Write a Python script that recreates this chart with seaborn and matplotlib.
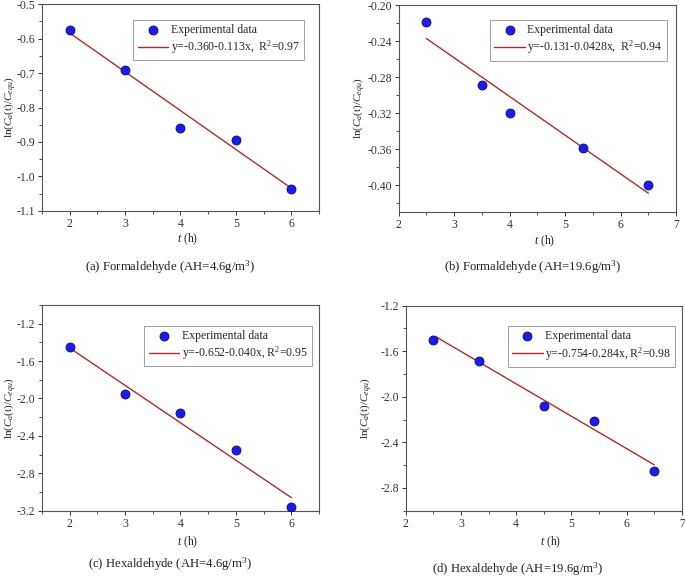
import matplotlib
matplotlib.use("Agg")
import matplotlib.pyplot as plt
import seaborn as sns
import pandas as pd
from matplotlib.ticker import MultipleLocator

# ---------------- data ----------------
a_x = [2, 3, 4, 5, 6]
a_y = [-0.575, -0.691, -0.858, -0.894, -1.036]
a_fit_x = [2, 6]
a_fit_y = [-0.584, -1.034]
a_label = "y=-0.360-0.113x,  R$^2$=0.97"

b_x = [2.5, 3.5, 4.0, 5.33, 6.5]
b_y = [-0.219, -0.289, -0.320, -0.359, -0.400]
b_fit_x = [2.5, 6.5]
b_fit_y = [-0.237, -0.409]
b_label = "y=-0.131-0.0428x,  R$^2$=0.94"

c_x = [2, 3, 4, 5, 6]
c_y = [-1.452, -1.955, -2.153, -2.555, -3.159]
c_fit_x = [2, 6]
c_fit_y = [-1.46, -3.06]
c_label = "y=-0.652-0.040x, R$^2$=0.95"

d_x = [2.5, 3.33, 4.5, 5.41, 6.5]
d_y = [-1.503, -1.685, -2.08, -2.21, -2.653]
d_fit_x = [2.55, 6.5]
d_fit_y = [-1.475, -2.597]
d_label = "y=-0.754-0.284x, R$^2$=0.98"

captions = ["(a) Formaldehyde (AH=4.6g/m$^3$)",
            "(b) Formaldehyde (AH=19.6g/m$^3$)",
            "(c) Hexaldehyde (AH=4.6g/m$^3$)",
            "(d) Hexaldehyde (AH=19.6g/m$^3$)"]

xlims = [(1.5, 6.5), (2, 7), (1.5, 6.5), (2, 7)]
ylims = [(-1.1, -0.5), (-0.43, -0.2), (-3.2, -1.0), (-3.0, -1.2)]
ymaj = [0.1, 0.04, 0.4, 0.4]
yfmt = ["%.1f", "%.2f", "%.1f", "%.1f"]
yticks_list = [None, [-0.40, -0.36, -0.32, -0.28, -0.24, -0.20],
               [-3.2, -2.8, -2.4, -2.0, -1.6, -1.2],
               [-2.8, -2.4, -2.0, -1.6, -1.2]]

# ---------------- style ----------------
sns.set_style("ticks")
plt.rcParams["font.family"] = ["Liberation Serif", "DejaVu Serif"]
plt.rcParams["mathtext.fontset"] = "custom"
plt.rcParams["mathtext.rm"] = "Liberation Serif"
plt.rcParams["mathtext.it"] = "Liberation Serif:italic"
plt.rcParams["mathtext.bf"] = "Liberation Serif:bold"

fig = plt.figure(figsize=(6.85, 5.78), dpi=100)

positions = [
    [0.0613, 0.635, 0.4044, 0.358],
    [0.582, 0.633, 0.405, 0.358],
    [0.0613, 0.1164, 0.4044, 0.356],
    [0.5923, 0.1164, 0.403, 0.355],
]
caption_pos = [(0.248, 0.538), (0.778, 0.538), (0.248, 0.024), (0.756, 0.016)]
xlabel_y = [0.586, 0.583, 0.062, 0.062]
ylabel_x = [0.014, 0.524, 0.014, 0.535]
legend_anchor = [(0.33, 0.925), (0.33, 0.93), (0.37, 0.9), (0.37, 0.9)]

datasets = [(a_x, a_y, a_fit_x, a_fit_y, a_label),
            (b_x, b_y, b_fit_x, b_fit_y, b_label),
            (c_x, c_y, c_fit_x, c_fit_y, c_label),
            (d_x, d_y, d_fit_x, d_fit_y, d_label)]

spine_col = "#555555"
for i, (px, py, fx, fy, lab) in enumerate(datasets):
    ax = fig.add_axes(positions[i])
    pts = pd.DataFrame({"t": px, "v": py})
    fit = pd.DataFrame({"t": fx, "v": fy})
    sns.lineplot(data=fit, x="t", y="v", ax=ax, color="#b02a2a", lw=1.0,
                 label=lab, zorder=2)
    sns.scatterplot(data=pts, x="t", y="v", ax=ax, color="#1c1ce6", s=42,
                    edgecolor="#0a0a80", linewidth=0.6, label="Experimental data",
                    zorder=3)
    ax.set_xlim(*xlims[i])
    ax.set_ylim(*ylims[i])
    ax.xaxis.set_major_locator(MultipleLocator(1))
    ax.xaxis.set_minor_locator(MultipleLocator(0.5))
    if yticks_list[i] is not None:
        ax.set_yticks(yticks_list[i])
    else:
        ax.yaxis.set_major_locator(MultipleLocator(ymaj[i]))
    ax.yaxis.set_minor_locator(MultipleLocator(ymaj[i] / 2))
    ax.yaxis.set_major_formatter(matplotlib.ticker.FormatStrFormatter(yfmt[i]))
    ax.set_ylim(*ylims[i])
    ax.tick_params(which="major", direction="out", length=3, width=0.7,
                   labelsize=8.5, colors="#333333", pad=2)
    ax.tick_params(which="minor", direction="out", length=2, width=0.6,
                   colors="#333333")
    for sp in ax.spines.values():
        sp.set_color(spine_col)
        sp.set_linewidth(0.8)
    ax.set_xlabel("")
    ax.set_ylabel("")
    h, l = ax.get_legend_handles_labels()
    leg = ax.legend(h[::-1], l[::-1], loc="upper left",
                    bbox_to_anchor=legend_anchor[i], fontsize=8.5,
                    frameon=True, fancybox=False, edgecolor="#888888",
                    borderpad=0.35, handlelength=2.6, handletextpad=0.2,
                    labelspacing=0.25, borderaxespad=0)
    leg.get_frame().set_linewidth(0.7)
    fig.text(caption_pos[i][0], caption_pos[i][1], captions[i],
             ha="center", va="center", fontsize=9.2, color="#222222")
    cx = positions[i][0] + positions[i][2] / 2 + 0.01
    fig.text(cx, xlabel_y[i], "$t$ (h)", ha="center", va="center",
             fontsize=8.5, color="#222222")
    cy = positions[i][1] + positions[i][3] / 2
    fig.text(ylabel_x[i], cy, "ln($C_a$(t)/$C_{equ}$)", rotation=90,
             ha="center", va="center", fontsize=8, color="#222222")

fig.savefig("out.png", dpi=100, facecolor="white")
